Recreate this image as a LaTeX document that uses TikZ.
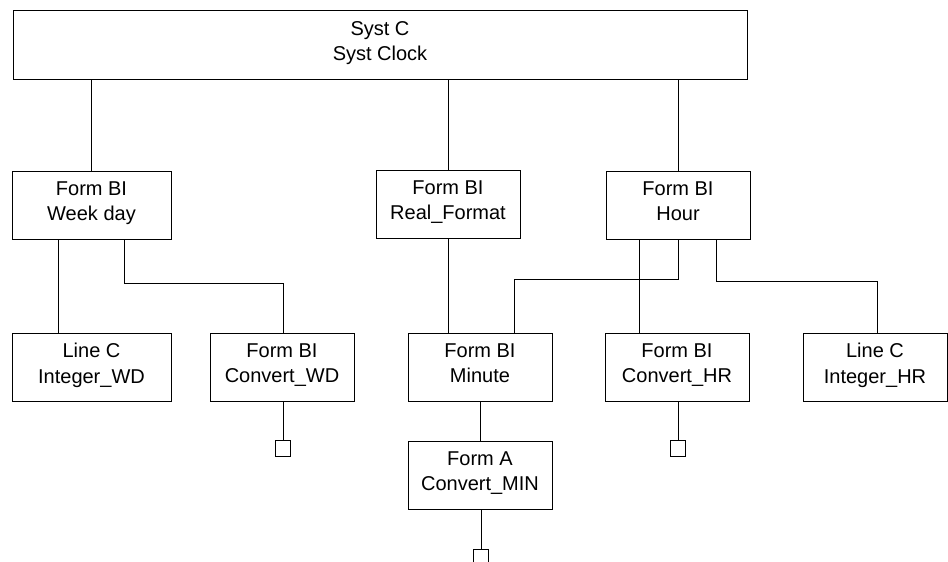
\documentclass[tikz,border=0pt]{standalone}
\usepackage{fontspec}
\setmainfont{Liberation Sans}
\usetikzlibrary{positioning, calc}

\begin{document}
\begin{tikzpicture}[
  x=1pt, y=-1pt,
  every path/.style = {line width=0.8pt},
  blk/.style    = {rectangle, draw=black, fill=white, inner sep=0pt, align=center,
                   minimum width=144pt, minimum height=68pt,
                   font=\fontsize{20}{25}\selectfont,
                   execute at begin node=\strut, execute at end node=\strut},
  wideblk/.style = {blk, minimum width=159pt},
  port/.style   = {rectangle, draw=black, inner sep=0pt, minimum width=15pt, minimum height=16pt}
]
\useasboundingbox (0,0) rectangle (948,562);

\node[blk, minimum width=734pt, minimum height=69pt] (sys) at (380,44.5) {Syst C\\Syst Clock};

\node[wideblk] (week)   at (91.5,205) {Form BI\\Week day};
\node[blk]     (real)   at (448,204)  {Form BI\\Real\_Format};
\node[blk]     (hour)   at (678,205)  {Form BI\\Hour};

\node[wideblk] (intwd)  at (91.5,367) {Line C\\Integer\_WD};
\node[blk]     (convwd) at (282,367)  {Form BI\\Convert\_WD};
\node[blk]     (minute) at (480,367)  {Form BI\\Minute};
\node[blk]     (convhr) at (677,367)  {Form BI\\Convert\_HR};
\node[blk]     (inthr)  at (875,367)  {Line C\\Integer\_HR};

\node[blk]     (forma)  at (480,475)  {Form A\\Convert\_MIN};

\node[port] (sqwd)  at (283,448) {};
\node[port] (sqhr)  at (678,448) {};
\node[port] (sqmin) at (481,557) {};

\draw (sys.south -| week) -- (week.north);
\draw (sys.south -| real) -- (real.north);
\draw (sys.south -| hour) -- (hour.north);

\draw ([xshift=-33.5pt]week.south) -- ([xshift=-33.5pt]week.south |- intwd.north);
\draw ([xshift=32.5pt]week.south) -- ++(0,44) -| ([xshift=1pt]convwd.north);

\draw (real.south) -- (real.south |- minute.north);
\draw (hour.south) -- ++(0,40) -| ([xshift=34pt]minute.north);
\draw ([xshift=-39pt]hour.south) -- ([xshift=-39pt]hour.south |- convhr.north);
\draw ([xshift=38pt]hour.south) -- ++(0,42) -| ([xshift=2pt]inthr.north);

\draw (convwd.south -| sqwd) -- (sqwd.north);
\draw (minute.south) -- (forma.north);
\draw (convhr.south -| sqhr) -- (sqhr.north);
\draw (forma.south -| sqmin) -- (sqmin.north);

\end{tikzpicture}
\end{document}
